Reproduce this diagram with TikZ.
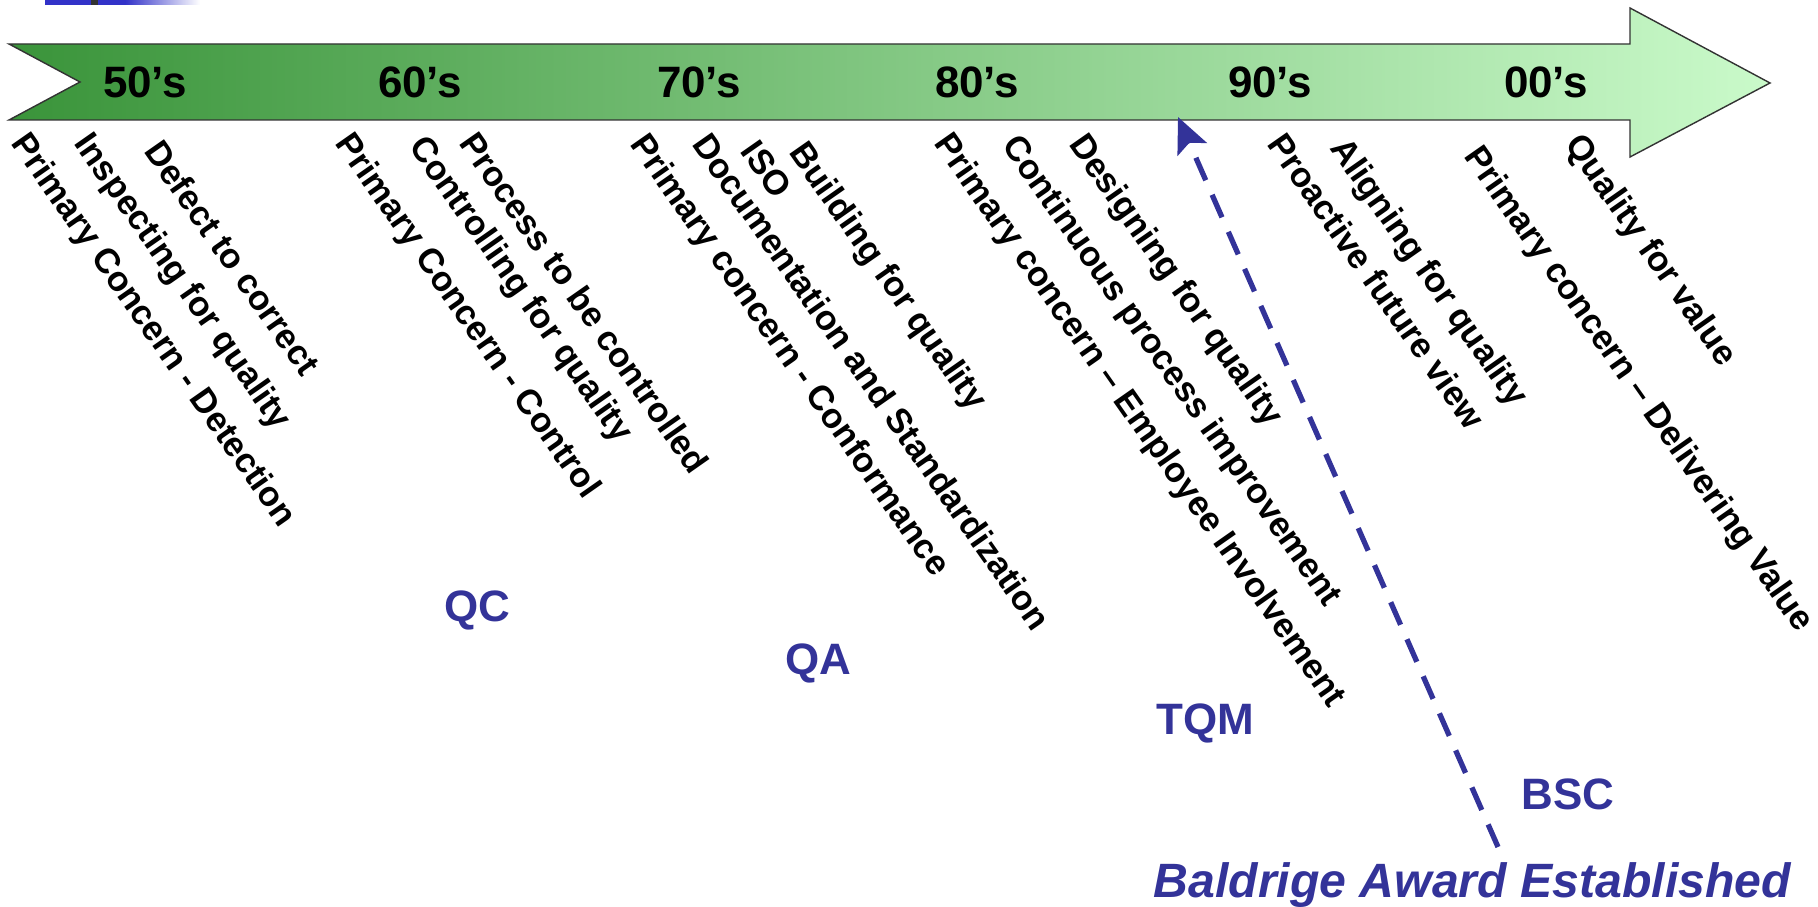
\documentclass[tikz,border=0pt]{standalone}
\usepackage{fontspec}
\setmainfont{Liberation Sans}
\usetikzlibrary{arrows.meta}
\definecolor{darkgreen}{RGB}{58,148,58}
\definecolor{palegreen}{RGB}{202,250,202}
\definecolor{eraBlue}{RGB}{51,51,153}
\definecolor{titleBlue}{RGB}{50,50,200}

\begin{document}
\begin{tikzpicture}[x=0.01cm,y=-0.01cm,
  decade/.style={font=\fontsize{12.5}{15}\selectfont\bfseries,anchor=base,inner sep=0},
  item/.style={font=\fontsize{9.9}{12}\selectfont\bfseries,rotate=-55,anchor=north west,inner sep=0},
  era/.style={font=\fontsize{12.5}{15}\selectfont\bfseries,text=eraBlue,anchor=base,inner sep=0}]
\useasboundingbox (0,0) rectangle (1818,907);
% title bar remnant
\fill[titleBlue] (45,0) rectangle (125,5);
\fill[left color=titleBlue,right color=white] (125,0) rectangle (200,5);
\fill[black!80] (91,0) rectangle (98,5);
% time arrow
\draw[gray!40!black,line width=0.4pt,left color=darkgreen,right color=palegreen]
  (9,44)--(1630,44)--(1630,8)--(1770,83)--(1630,157)--(1630,120)--(9,120)--(80,82)--cycle;
\foreach \x/\t in {145/50,420/60,699/70,977/80,1270/90,1546/00}
  \node[decade] (d\t) at (\x,98) {\t's};
% what each decade was about
\node[item] (det) at (31,128) {Primary Concern - Detection};
\node[item] (insp) at (94,128) {Inspecting for quality};
\node[item] (defect) at (164,136) {Defect to correct};
\node[item] (ctrl) at (355,128) {Primary Concern - Control};
\node[item] (ctrlq) at (429,131) {Controlling for quality};
\node[item] (proc) at (479,128) {Process to be controlled};
\node[item] (conf) at (650,129) {Primary concern - Conformance};
\node[item] (docu) at (712,129) {Documentation and Standardization};
\node[item] (iso) at (760,137) {ISO};
\node[item] (build) at (809,137) {Building for quality};
\node[item] (empl) at (954,128) {Primary concern -- Employee Involvement};
\node[item] (cont) at (1022,130) {Continuous process improvement};
\node[item] (design) at (1089,129) {Designing for quality};
\node[item] (proact) at (1287,129) {Proactive future view};
\node[item] (align) at (1350,133) {Aligning for quality};
\node[item] (deliv) at (1484,141) {Primary concern -- Delivering Value};
\node[item] (qval) at (1585,129) {Quality for value};
% movements
\node[era] (qc) at (477,622) {QC};
\node[era] (qa) at (818,675) {QA};
\node[era] (tqm) at (1205,735) {TQM};
\node[era] (bsc) at (1568,809) {BSC};
\node[font=\fontsize{13.7}{16}\selectfont\bfseries\itshape,text=eraBlue,anchor=base west,inner sep=0] (award) at (1153,897) {Baldrige Award Established};
\coordinate (bTop) at (1178,117);
\coordinate (bFoot) at (1498,847);
\draw[eraBlue,line width=1.5pt,dash pattern=on 7pt off 4.5pt,-{Stealth[length=10pt,width=9pt,inset=2pt]}] (bFoot)--(bTop);
\end{tikzpicture}
\end{document}
